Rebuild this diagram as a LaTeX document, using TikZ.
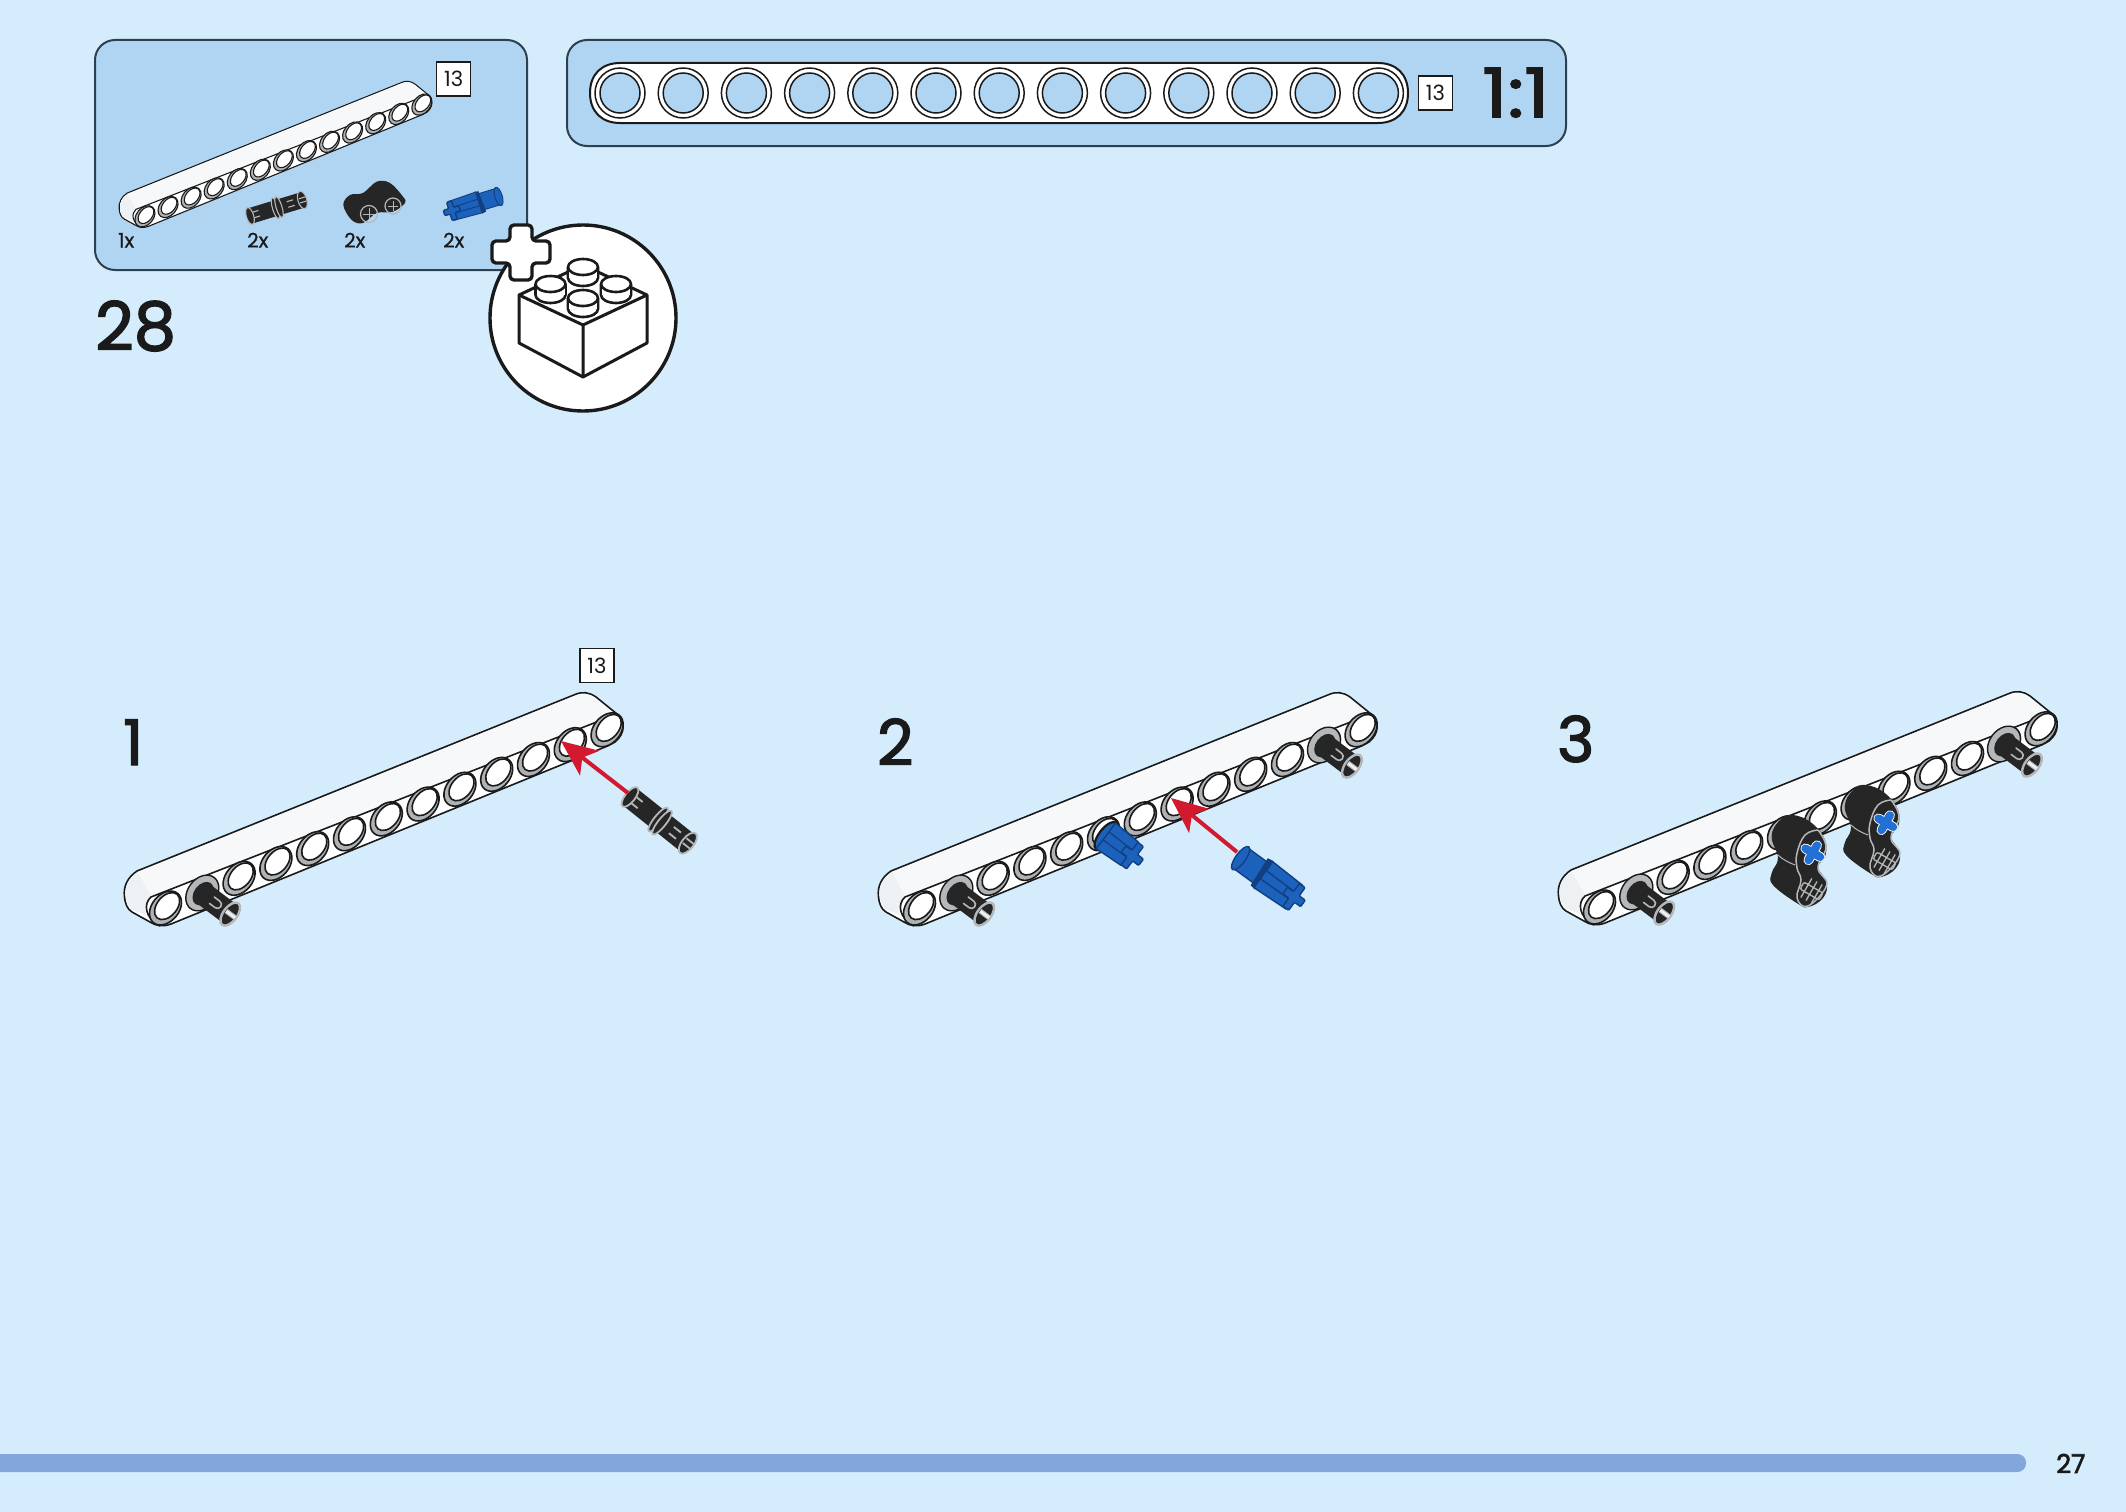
\documentclass[tikz,border=0pt]{standalone}
\usepackage{fontspec}
\setmainfont[FakeBold=0.9]{Poppins}
\newfontfamily\thinfont{Poppins}
\newfontfamily\medfont[FakeBold=2.2]{Poppins}
\newfontfamily\widefont[FakeBold=2.2,FakeStretch=1.16]{Poppins}
\usetikzlibrary{arrows.meta}
\definecolor{bgblue}{HTML}{D4ECFC}
\definecolor{panelblue}{HTML}{B0D5F3}
\definecolor{paneledge}{HTML}{2E3F4F}
\definecolor{inkblack}{HTML}{1A1A1A}
\definecolor{barblue}{HTML}{83A7DA}
\definecolor{redarr}{HTML}{D3192D}
\definecolor{pinblack}{HTML}{262626}
\definecolor{pingrey}{HTML}{B5B8BA}
\definecolor{ringgrey}{HTML}{AEB2B5}
\definecolor{topface}{HTML}{F6F8FA}
\definecolor{endface}{HTML}{EEF1F3}
\definecolor{pinblue}{HTML}{1C62BC}
\definecolor{pinbluedk}{HTML}{123F80}
\definecolor{crossblue}{HTML}{2270D6}
\tikzset{
  panelbox/.style={draw=paneledge,line width=2pt,fill=panelblue,rounded corners=20pt},
  countbox/.style={draw=inkblack,line width=1.4pt,fill=white,minimum width=34pt,minimum height=34pt,inner sep=0pt,font=\thinfont\fontsize{21}{21}\selectfont,text=inkblack},
  stepnum/.style={anchor=base west,inner sep=0pt,font=\medfont\fontsize{67}{67}\selectfont,text=inkblack},
  stepsmall/.style={anchor=base west,inner sep=0pt,font=\medfont\fontsize{63}{63}\selectfont,text=inkblack},
  qty/.style={anchor=base west,inner sep=0pt,font=\fontsize{20}{20}\selectfont,text=inkblack},
  redarrow/.style={draw=redarr,line width=4pt,-{Stealth[length=36pt,width=31pt,inset=9pt]}},
  beamline/.style={draw=inkblack,line width=\lwv pt,line join=round},
  brickline/.style={draw=inkblack,line width=3pt,line join=round,fill=white},
}
\def\lwv{1.6}
\newcommand\holeat[2]{%
  \begin{scope}[shift={(#1,#2)},rotate=50]
    \draw[beamline,fill=ringgrey] (0,0) ellipse [x radius=19pt,y radius=13.5pt];
    \draw[beamline,fill=white] (2.5pt,0pt) ellipse [x radius=15.5pt,y radius=10pt];
  \end{scope}}
\newcommand\drawbeam{%
  \filldraw[beamline,fill=white] (124.5,897) .. controls (123,886) and (128,877) .. (137,871)
    -- (575,694.5) .. controls (582,691.5) and (589,692) .. (596,697)
    -- (617,714) .. controls (625,721) and (626,733) .. (615,742)
    -- (607.5,746) -- (171,924) .. controls (163,927) and (156,926) .. (150,922)
    -- (132,912) .. controls (127,909) and (125,903) .. (124.5,897) -- cycle;
  \fill[topface] (126,896) .. controls (125,886) and (129,878) .. (138,872.5)
    -- (575,696) .. controls (582,693) and (589,693.5) .. (595,698)
    -- (615,714) -- (151,896) -- cycle;
  \fill[endface] (126,896) .. controls (125,886) and (129,878) .. (138,872.5) -- (151,896)
    .. controls (146,901) and (144,908) .. (146,915) -- (133,910) .. controls (128,907) and (126,902) .. (126,896) -- cycle;
  \draw[beamline] (160,926) .. controls (145,918) and (143,904) .. (151,897) -- (617,714);
  \foreach \i in {0,...,12}{%
    \pgfmathsetmacro\hx{165.5+36.8*\i}%
    \pgfmathsetmacro\hy{908-14.85*\i}%
    \holeat{\hx}{\hy}}}
\newcommand\slitU[1]{%
  \draw[pingrey,line width=1.6pt,line cap=round] (#1-6,-4) -- (#1+1,-4) (#1-6,4) -- (#1+1,4) (#1+1,-4) arc[start angle=90,end angle=-90,radius=4pt];}
% black friction pin sitting in a hole; local x runs along the axis
\newcommand\pinin[2]{%
  \begin{scope}[shift={(#1,#2)},rotate=-37]
    \draw[line width=1.4pt,draw=inkblack,fill=pingrey] (0,0) ellipse [x radius=14.5pt,y radius=19.5pt];
    \fill[pinblack] (1,0) ellipse [x radius=9pt,y radius=13pt];
    \fill[pinblack] (1,-11.5) -- (35,-11.5) -- (35,11.5) -- (1,11.5) -- cycle;
    \slitU{18}
    \draw[pingrey,line width=2.4pt,fill=pinblack] (35,0) ellipse [x radius=7pt,y radius=13.5pt];
    \fill[white!80!pingrey] (30,-2) rectangle (41,2);
    \draw[pingrey,line width=1pt] (30,-2) -- (41,-2) (30,2) -- (41,2);
  \end{scope}}
% loose black pin; 1: start, 2: angle, 3: x scale, 4: y scale, 5: line width
\newcommand\pinloose[5]{%
  \begin{scope}[shift={(#1)},rotate=#2,xscale=#3,yscale=#4]
    \fill[pinblack] (0,-11) -- (74,-11) -- (74,11) -- (0,11) -- cycle;
    \draw[pingrey,line width=#5pt,fill=pinblack] (0,0) ellipse [x radius=5pt,y radius=12pt];
    \draw[pingrey,line width=#5pt] (5,-4) -- (13,-4) (5,4) -- (13,4);
    \draw[pingrey,line width=#5pt,fill=pinblack] (36,0) ellipse [x radius=4pt,y radius=15pt];
    \draw[pingrey,line width=#5pt,fill=pinblack] (41,0) ellipse [x radius=4pt,y radius=15pt];
    \draw[pingrey,line width=#5pt] (53,-4) -- (62,-4) (53,4) -- (62,4);
    \draw[pingrey,line width=#5pt,fill=pinblack] (74,0) ellipse [x radius=6pt,y radius=12.5pt];
    \draw[pingrey,line width=#5pt] (70,-3) -- (79,-3) (70,3) -- (79,3);
  \end{scope}}
% cross end of a blue axle, in local frame
\newcommand\axlecross[1]{%
  \draw[pinbluedk,line width=1.4pt,fill=pinblue,rounded corners=1pt]
    (#1-3.5,-4) -- (#1-3.5,-14) -- (#1+3.5,-14) -- (#1+3.5,-4) -- (#1+11,-4) -- (#1+11,4)
    -- (#1+3.5,4) -- (#1+3.5,14) -- (#1-3.5,14) -- (#1-3.5,4) -- (#1-11,4) -- (#1-11,-4) -- cycle;}
\newcommand\axlebody[2]{%
  \draw[pinbluedk,line width=1.4pt,fill=pinblue,line join=round] (#1,-16) -- (#2,-14.5) -- (#2,14.5) -- (#1,16) -- cycle;
  \draw[pinbluedk,line width=1.2pt] (#1,-5) -- (#2,-4.5) (#1,5) -- (#2,4.5);}
\newcommand\bluein[2]{%
  \begin{scope}[shift={(#1,#2)},rotate=-37]
    \draw[line width=2.2pt,draw=inkblack,fill=pinblue] (3,0) ellipse [x radius=7pt,y radius=16.5pt];
    \axlebody{3}{33}
    \axlecross{36}
  \end{scope}}
\newcommand\blueloose[5]{%
  \begin{scope}[shift={(#1)},rotate=#2,xscale=#3,yscale=#4]
    \draw[pinbluedk,line width=#5pt,fill=pinblue] (3,-12.5) -- (30,-12.5) -- (30,12.5) -- (3,12.5) -- cycle;
    \draw[pinbluedk,line width=#5pt,fill=pinblue] (2,0) ellipse [x radius=5pt,y radius=14pt];
    \fill[pinbluedk] (24,-16) -- (30,-17) -- (32,17) -- (26,16) -- cycle;
    \draw[pinbluedk,line width=#5pt,fill=pinblue] (30,-16) -- (68,-14.5) -- (68,14.5) -- (30,16) -- cycle;
    \draw[pinbluedk,line width=#5pt] (30,-5) -- (68,-4.5) (30,5) -- (68,4.5);
    \axlecross{68}
  \end{scope}}
% perpendicular connector seen in step 3
\newcommand\connector[2]{%
  \begin{scope}[shift={(#1,#2)}]
    \fill[pinblack] plot[smooth cycle,tension=.7] coordinates {(1771.7,836.7) (1780,820) (1793,815) (1811.7,823) (1825,840) (1825,857) (1818,867) (1826.7,883) (1823,898) (1808,907) (1796.7,903) (1773,885) (1771.7,873) (1778,858)};
    \draw[pingrey,line width=1.5pt] plot[smooth,tension=.7] coordinates {(1818,830) (1826,847) (1818,868) (1826.7,885) (1808,906) (1797,898) (1801,880) (1797,868) (1797,853) (1805,835) (1818,830)};
    \draw[pingrey,line width=1pt] (1778,855) .. controls (1783,860) and (1790,863) .. (1795,865);
    \begin{scope}[shift={(1812.7,852.7)},rotate=-30]
      \draw[white,line width=10pt,line cap=round] (-8.5,0) -- (8.5,0) (0,-8.5) -- (0,8.5);
      \draw[crossblue,line width=8.2pt,line cap=round] (-8.5,0) -- (8.5,0) (0,-8.5) -- (0,8.5);
    \end{scope}
    \begin{scope}[shift={(1811.5,891)},rotate=-30]
      \draw[pingrey,line width=1.3pt,rounded corners=2pt] (-11,-4) -- (-11,4) -- (11,4) -- (11,-4) -- cycle;
      \draw[pingrey,line width=1.3pt] (-6,-11) -- (-6,11) (0,-11) -- (0,11) (6,-11) -- (6,11);
    \end{scope}
  \end{scope}}
\newcommand\stud[2]{%
  \draw[brickline,line width=2.6pt] (#1-15,#2) -- (#1-15,#2+11) arc[start angle=180,end angle=360,x radius=15pt,y radius=8pt] -- (#1+15,#2);
  \fill[white] (#1-14,#2) rectangle (#1+14,#2+11);
  \draw[brickline,line width=2.6pt] (#1,#2) ellipse [x radius=15pt,y radius=8pt];}
\begin{document}
\begin{tikzpicture}[x=1pt,y=-1pt]
\useasboundingbox (0,0) rectangle (2126,1512);
\fill[bgblue] (0,0) rectangle (2126,1512);
% top-left panel
\draw[panelbox] (95,40) rectangle (527,270);
\begin{scope}[shift={(41.2,-353)},scale=.627]
  \def\lwv{1.1}
  \drawbeam
\end{scope}
\node[countbox] (count1) at (453.7,79) {13};
\pinloose{250,216}{17}{.74}{.72}{1.1}
\fill[pinblack] plot[smooth cycle,tension=.6] coordinates {(343.3,205) (350,195) (363,193) (376.7,181.7) (390,183) (403,196.7) (405,203) (393,211.7) (376.7,213) (363,223) (351.7,220)};
\draw[pingrey,line width=1.2pt] (369,214) circle [radius=8.5pt] (393,206) circle [radius=8pt];
\draw[pingrey,line width=1pt] (363,214) -- (375,214) (369,208) -- (369,220) (388,206) -- (398,206) (393,201) -- (393,211);
\blueloose{500,196}{197}{.74}{.68}{.9}
\node[qty] (q1) at (118,247.5) {1x};
\node[qty] (q2) at (247,247.5) {2x};
\node[qty] (q3) at (344,247.5) {2x};
\node[qty] (q4) at (443,247.5) {2x};
% 1:1 panel
\draw[panelbox] (567,40) rectangle (1566,146);
\draw[draw=inkblack,line width=2pt,fill=white] (590,93) .. controls (590,74) and (602,63) .. (620,63) -- (1378,63) .. controls (1396,63) and (1408,74) .. (1408,93) .. controls (1408,112) and (1396,123) .. (1378,123) -- (620,123) .. controls (602,123) and (590,112) .. (590,93) -- cycle;
\foreach \i in {0,...,12}{%
  \pgfmathsetmacro\hx{620+63.2*\i}%
  \draw[inkblack,line width=1.5pt,fill=white] (\hx,93) circle [radius=25pt];
  \draw[inkblack,line width=1.5pt,fill=panelblue] (\hx,93) circle [radius=20pt];}
\node[countbox] (count2) at (1435.5,93) {13};
\node[anchor=base west,inner sep=0pt,font=\widefont\fontsize{68}{68}\selectfont,text=inkblack] (scale) at (1482,117) {1:1};
% brick badge
\draw[draw=inkblack,line width=3.4pt,fill=white] (583,318) circle [radius=93pt];
\draw[brickline] (519,295) -- (583,265) -- (647,295) -- (647,343) -- (583,377) -- (519,343) -- cycle;
\draw[brickline,fill=none] (519,295) -- (583,325) -- (647,295) (583,325) -- (583,377);
\stud{583}{267}
\stud{550.5}{284}
\stud{616}{284}
\stud{583}{298}
\draw[draw=inkblack,line width=3.4pt,fill=white,line join=round,rounded corners=4pt]
  (510,225) -- (532,225) -- (532,241) -- (550,241) -- (550,263) -- (532,263) -- (532,280) -- (510,280) -- (510,263) -- (492,263) -- (492,241) -- (510,241) -- cycle;
\node[stepnum] (stepno) at (95,350) {28};
% step 1
\node[stepsmall] (n1) at (123,765) {1};
\drawbeam
\pinin{202.3}{893}
\node[countbox] (count3) at (597,665.5) {13};
\pinloose{630,797}{-38.6}{1}{1}{1.8}
\coordinate (a1s) at (628,793);
\coordinate (a1t) at (561,741);
\draw[redarrow] (a1s) -- (a1t);
% step 2
\node[stepsmall] (n2) at (877,765) {2};
\begin{scope}[shift={(754,0)}]
  \drawbeam
  \pinin{202.3}{893}
  \pinin{570}{745}
\end{scope}
\bluein{1103.5}{834}
\blueloose{1239,857}{-36}{1}{1}{1.4}
\coordinate (a2s) at (1237,852);
\coordinate (a2t) at (1171,798);
\draw[redarrow] (a2s) -- (a2t);
% step 3
\node[stepsmall] (n3) at (1557,762) {3};
\begin{scope}[shift={(1434,-1)}]
  \drawbeam
  \pinin{202.3}{893}
  \pinin{570}{745}
\end{scope}
\connector{0}{0}
\connector{73}{-30}
% footer
\fill[barblue,rounded corners=8.5pt] (-20,1454) rectangle (2026,1472);
\node[anchor=base west,inner sep=0pt,font=\medfont\fontsize{26}{26}\selectfont,text=inkblack] (pageno) at (2056,1473) {27};
\end{tikzpicture}
\end{document}
